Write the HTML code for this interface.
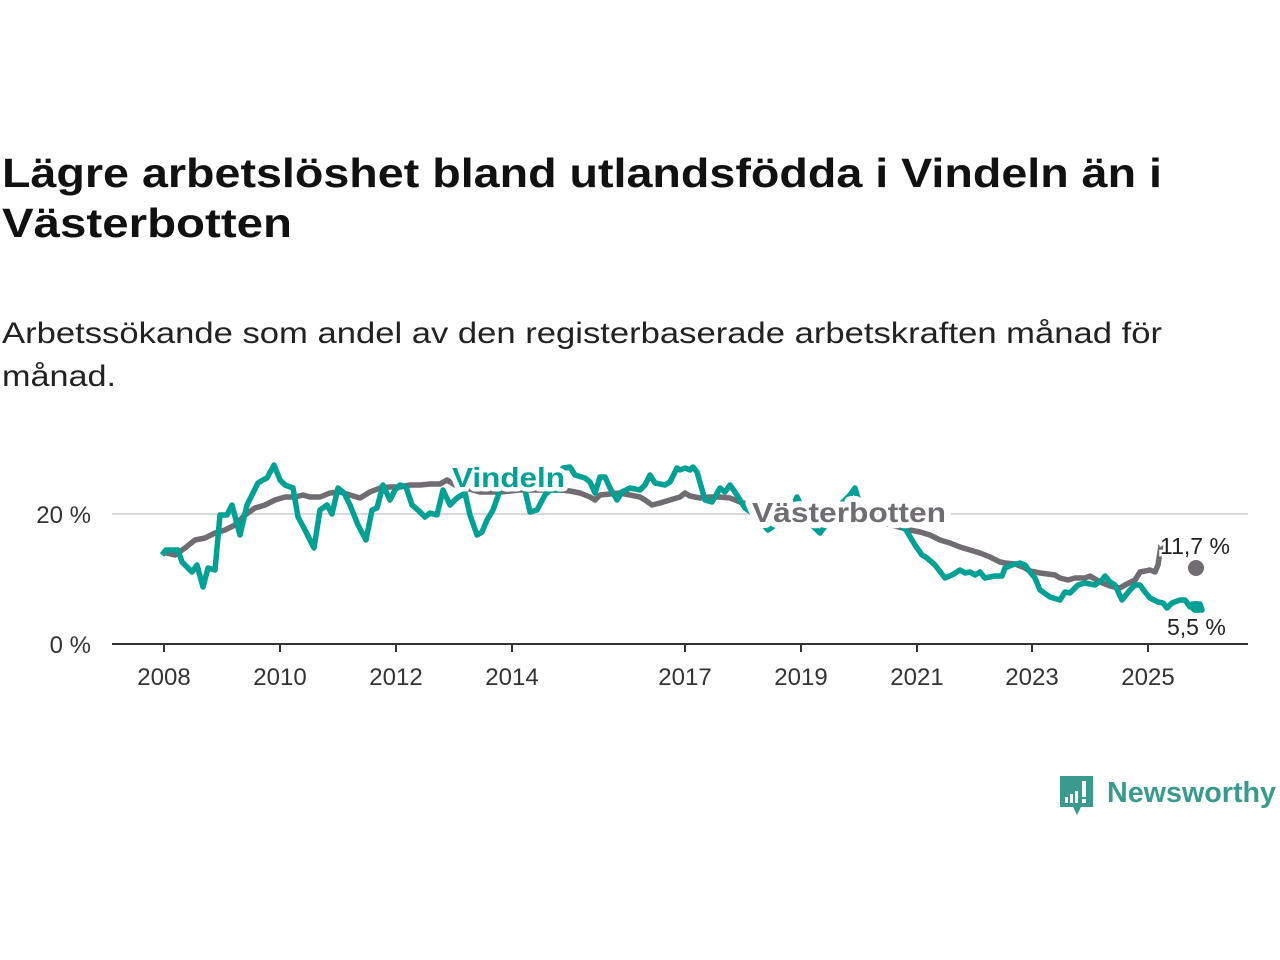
<!DOCTYPE html>
<html><head><meta charset="utf-8"><style>
html,body{margin:0;padding:0;background:#fff;width:1280px;height:960px;overflow:hidden;font-family:"Liberation Sans",sans-serif;}
</style></head><body>
<svg width="1280" height="960" viewBox="0 0 1280 960" xmlns="http://www.w3.org/2000/svg" font-family="Liberation Sans, sans-serif">
<text x="2" y="187" font-size="41" font-weight="bold" fill="#111" textLength="1160" lengthAdjust="spacingAndGlyphs">Lägre arbetslöshet bland utlandsfödda i Vindeln än i</text>
<text x="2" y="237" font-size="41" font-weight="bold" fill="#111" textLength="290" lengthAdjust="spacingAndGlyphs">Västerbotten</text>
<text x="2" y="343" font-size="30" fill="#222" textLength="1160" lengthAdjust="spacingAndGlyphs">Arbetssökande som andel av den registerbaserade arbetskraften månad för</text>
<text x="2" y="386" font-size="30" fill="#222" textLength="114" lengthAdjust="spacingAndGlyphs">månad.</text>

<line x1="112" y1="514" x2="1248" y2="514" stroke="#d9d9d9" stroke-width="2"/>
<text x="91" y="523" font-size="24" fill="#333" text-anchor="end">20 %</text>
<text x="91" y="653" font-size="24" fill="#333" text-anchor="end">0 %</text>
<line x1="112" y1="644" x2="1248" y2="644" stroke="#333" stroke-width="2"/>
<g stroke="#333" stroke-width="2">
<line x1="164" y1="644" x2="164" y2="652"/><line x1="280" y1="644" x2="280" y2="652"/><line x1="396" y1="644" x2="396" y2="652"/><line x1="512" y1="644" x2="512" y2="652"/><line x1="685" y1="644" x2="685" y2="652"/><line x1="801" y1="644" x2="801" y2="652"/><line x1="917" y1="644" x2="917" y2="652"/><line x1="1032" y1="644" x2="1032" y2="652"/><line x1="1148" y1="644" x2="1148" y2="652"/>
</g>
<g font-size="24" fill="#333" text-anchor="middle">
<text x="164" y="685">2008</text><text x="280" y="685">2010</text><text x="396" y="685">2012</text><text x="512" y="685">2014</text><text x="685" y="685">2017</text><text x="801" y="685">2019</text><text x="917" y="685">2021</text><text x="1032" y="685">2023</text><text x="1148" y="685">2025</text>
</g>

<polyline fill="none" stroke="#6f6d71" stroke-width="5.5" stroke-linejoin="round" points="162,552 175,555 185,548 195,540 205,538 215,533 225,530 235,525 245,515 255,508 265,505 275,500 285,497 295,497 303,495 310,497 320,497 330,493 340,492 350,495 360,498 370,492 380,488 390,487 400,487 410,485 420,485 430,484 440,484 447,480 455,485 480,492 500,492 520,490 540,490 560,490 570,491 580,493 590,497 595,500 600,495 610,494 620,493 630,495 640,497 645,500 652,505 660,503 670,500 680,497 685,493 690,496 700,498 710,497 720,497 730,498 740,502 760,508 800,512 850,516 880,522 910,530 920,532 930,535 940,540 950,543 960,547 970,550 980,553 990,557 1000,562 1005,563 1015,564 1025,568 1030,571 1040,573 1055,575 1060,578 1068,580 1075,578 1085,578 1090,576 1100,582 1110,586 1120,588 1125,585 1135,580 1140,572 1150,570 1155,572 1158,565 1161,545"/>
<circle cx="1196" cy="568" r="8" fill="#6f6d71"/>

<polyline fill="none" stroke="#00a095" stroke-width="5.5" stroke-linejoin="round" points="162,555 166,550 178,550 182,562 192,572 197,565 203,587 208,568 215,570 220,515 227,515 232,505 240,535 247,505 258,483 263,480 267,478 274,465 280,480 285,485 293,488 298,517 305,530 314,548 320,510 327,505 332,514 338,488 344,493 350,505 358,525 366,540 372,510 377,508 383,485 390,500 395,490 400,485 406,487 412,505 418,510 425,517 430,513 437,515 443,490 450,505 457,498 465,493 470,515 477,535 482,532 487,520 493,510 498,496 503,475 515,480 525,490 530,512 537,510 545,495 550,490 560,490 563,468 570,467 575,475 585,478 590,482 595,493 600,477 605,477 610,488 617,500 622,492 630,488 640,490 645,485 650,475 655,483 665,485 670,482 677,468 680,470 685,468 690,470 693,467 697,472 705,500 712,502 720,488 725,492 730,485 735,492 740,500 745,508 755,515 768,530 775,525 790,512 797,497 803,510 812,525 820,533 830,520 840,505 850,495 855,488 860,505 870,522 880,525 895,520 906,530 915,545 922,555 927,558 935,565 945,578 952,575 960,570 965,573 970,572 975,575 980,572 985,578 995,576 1002,576 1005,568 1012,565 1020,563 1025,565 1030,572 1035,578 1040,590 1050,597 1060,600 1065,592 1070,593 1078,585 1085,583 1095,585 1102,580 1105,576 1110,582 1115,585 1122,600 1130,590 1135,585 1140,585 1145,592 1150,598 1158,602 1163,603 1167,608 1172,603 1180,600 1185,600 1190,607 1192,604 1200,604 1202,610 1196,610"/>
<circle cx="1196" cy="607" r="6" fill="#00a095"/>

<text x="452" y="487" font-size="28" font-weight="bold" fill="#00a095" stroke="#fff" stroke-width="9" paint-order="stroke" stroke-linejoin="round" textLength="113" lengthAdjust="spacingAndGlyphs">Vindeln</text>
<text x="752" y="522" font-size="28" font-weight="bold" fill="#6f6d71" stroke="#fff" stroke-width="12" paint-order="stroke" stroke-linejoin="round" textLength="194" lengthAdjust="spacingAndGlyphs">Västerbotten</text>
<text x="1160" y="554" font-size="23" fill="#222" stroke="#fff" stroke-width="5" paint-order="stroke">11,7 %</text>
<text x="1167" y="635" font-size="23" fill="#222" stroke="#fff" stroke-width="5" paint-order="stroke">5,5 %</text>

<path d="M1060,776 h33 v31 h-12 l-4,8 l-4,-8 h-13 z" fill="#3a9a8e"/>
<rect x="1065" y="797" width="3" height="6" fill="#fff"/><rect x="1070" y="794" width="3" height="9" fill="#fff"/><rect x="1075" y="791" width="3" height="12" fill="#fff"/><rect x="1082" y="781" width="4" height="16" fill="#fff"/><rect x="1082" y="799" width="4" height="4" fill="#fff"/>
<text x="1107" y="802" font-size="29" font-weight="bold" fill="#3a9a8e" textLength="169" lengthAdjust="spacingAndGlyphs">Newsworthy</text>
</svg>
</body></html>
